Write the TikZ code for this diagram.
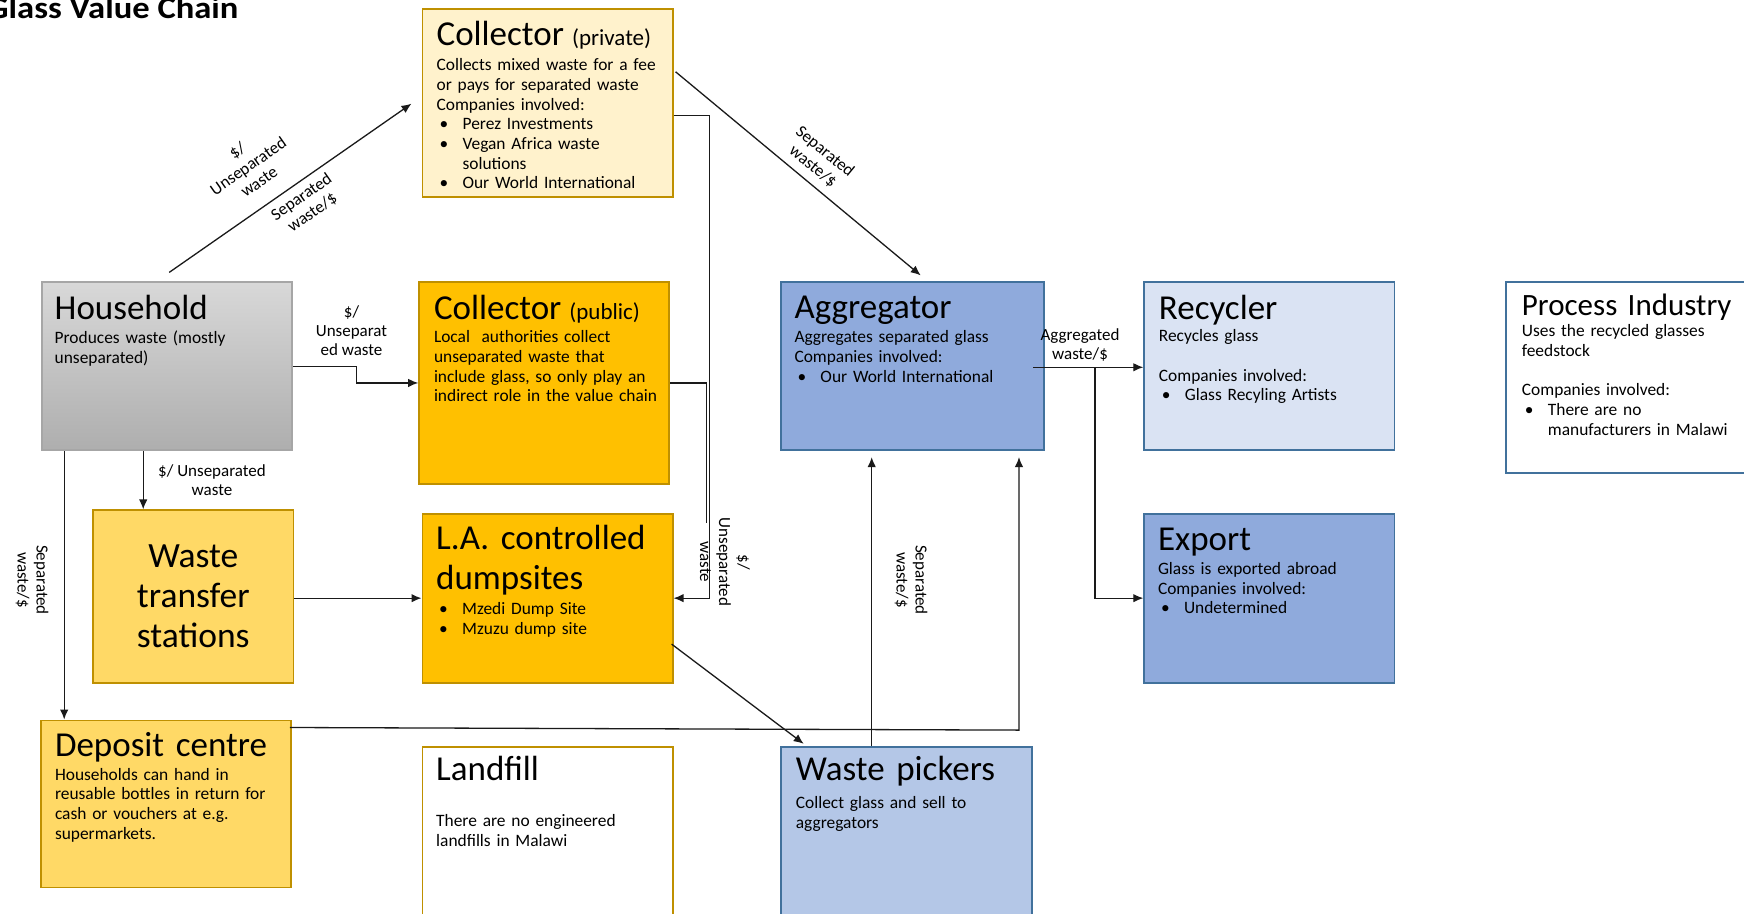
\documentclass[tikz,border=0pt]{standalone}
\usepackage{fontspec}
\setmainfont{Carlito}
\usetikzlibrary{arrows.meta,calc}
\definecolor{gold}{HTML}{BF9000}
\definecolor{lightyel}{HTML}{FFF2CC}
\definecolor{amber}{HTML}{FFC000}
\definecolor{yel}{HTML}{FFD966}
\definecolor{bluemid}{HTML}{8FAADC}
\definecolor{bluelight}{HTML}{DAE3F3}
\definecolor{bluepick}{HTML}{B4C7E7}
\definecolor{blueline}{HTML}{41719C}
\definecolor{grayline}{HTML}{A6A6A6}
\definecolor{hhtop}{HTML}{D8D8D8}
\definecolor{hhbot}{HTML}{AEAEAE}
\definecolor{inkline}{HTML}{1A1A1A}
\newcommand{\titlefont}{\fontsize{35}{40}\selectfont}
\newcommand{\subtitlefont}{\fontsize{23}{26}\selectfont}
\newcommand{\bodyfont}{\fontsize{17.4}{19.7}\selectfont}
\newcommand{\lblfont}{\fontsize{17}{19}\selectfont}
\newcommand{\bul}{\makebox[26pt][l]{\hspace{3pt}\textbullet}}
\begin{document}
\begin{tikzpicture}[x=1pt,y=-1pt,
  box/.style={anchor=north west, inner sep=0pt, line width=1.8pt},
  ttl/.style={anchor=base west, inner sep=0pt, font=\titlefont, text width=245pt, align=left},
  body/.style={anchor=base west, inner sep=0pt, font=\bodyfont, text width=245pt, align=left},
  lbl/.style={inner sep=0pt, font=\lblfont, align=center},
  conn/.style={draw=inkline, line width=1.3pt},
  arr/.style={conn, -{Latex[length=10pt,width=8.5pt]}}]
\clip (0,0) rectangle (1744,913);
\fill[white] (0,0) rectangle (1744,913);

% title
\node[anchor=base west, inner sep=0pt, xscale=1.115, font=\bfseries\fontsize{31}{36}\selectfont] (title) at (-13.5,18.6) {Glass Value Chain};

% boxes
\node[box, fill=lightyel, draw=gold, minimum width=250.3pt, minimum height=187.9pt] (cpriv) at (421.5,7.8) {};
\node[box, top color=hhtop, bottom color=hhbot, draw=grayline, minimum width=250.2pt, minimum height=167.9pt] (hh) at (41.2,281.4) {};
\node[box, fill=amber, draw=gold, minimum width=250.2pt, minimum height=201.3pt] (cpub) at (418.2,281.4) {};
\node[box, fill=bluemid, draw=blueline, minimum width=263.5pt, minimum height=167.9pt] (agg) at (779.7,281.4) {};
\node[box, fill=bluelight, draw=blueline, minimum width=250.3pt, minimum height=167.9pt] (rec) at (1143.3,281.4) {};
\node[box, fill=white, draw=blueline, minimum width=260pt, minimum height=190.5pt] (proc) at (1504.8,281.2) {};
\node[box, fill=yel, draw=gold, minimum width=200.2pt, minimum height=172.4pt] (wts) at (92.3,509.4) {};
\node[box, fill=amber, draw=gold, minimum width=250.3pt, minimum height=169.1pt] (lad) at (421.5,512.7) {};
\node[box, fill=bluemid, draw=blueline, minimum width=250.3pt, minimum height=169.1pt] (exp) at (1143.3,512.7) {};
\node[box, fill=yel, draw=gold, minimum width=250.3pt, minimum height=167pt] (dep) at (39.8,719.5) {};
\node[box, fill=white, draw=gold, minimum width=250.3pt, minimum height=190pt] (lf) at (421.5,745.7) {};
\node[box, fill=bluepick, draw=blueline, minimum width=251.3pt, minimum height=190pt] (wp) at (779.7,746.3) {};

% box texts
\node[ttl] (cprivt) at ($(cpriv.north west)+(14.9,37.9)$) {Collector\hspace{8pt}\subtitlefont(private)};
\node[body] (cprivb) at ($(cpriv.north west)+(14.9,62.9)$) {Collects mixed waste for a fee\\or pays for separated waste\\Companies involved:\\\bul Perez Investments\\\bul Vegan Africa waste\\\hspace*{26pt}solutions\\\bul Our World International};

\node[ttl] (hht) at ($(hh.north west)+(13.3,37.6)$) {Household};
\node[body] (hhb) at ($(hh.north west)+(13.3,62.2)$) {Produces waste (mostly\\unseparated)};

\node[ttl] (cpubt) at ($(cpub.north west)+(15.6,37.6)$) {Collector\hspace{8pt}\subtitlefont(public)};
\node[body] (cpubb) at ($(cpub.north west)+(15.6,61.2)$) {Local~ authorities collect\\unseparated waste that\\include glass, so only play an\\indirect role in the value chain};

\node[ttl] (aggt) at ($(agg.north west)+(14.6,37)$) {Aggregator};
\node[body] (aggb) at ($(agg.north west)+(14.6,61.3)$) {Aggregates separated glass\\Companies involved:\\\bul Our World International};

\node[ttl] (rect) at ($(rec.north west)+(15.4,37.6)$) {Recycler};
\node[body] (recb) at ($(rec.north west)+(15.4,60.3)$) {Recycles glass\\[19.7pt]Companies involved:\\\bul Glass Recyling Artists};

\node[ttl, font=\fontsize{31}{36}\selectfont] (proct) at ($(proc.north west)+(16.9,33.8)$) {Process Industry};
\node[body] (procb) at ($(proc.north west)+(16.9,55.5)$) {Uses the recycled glasses\\feedstock\\[19.7pt]Companies involved:\\\bul There are no\\\hspace*{26pt}manufacturers in Malawi};

\node[anchor=base, inner sep=0pt, font=\fontsize{35.5}{40.2}\selectfont, text width=200pt, align=center] (wtst) at ($(wts.north)+(0,57.9)$) {Waste\\transfer\\stations};

\node[ttl] (ladt) at ($(lad.north west)+(14.5,36.3)$) {L.A. controlled\\dumpsites};
\node[body] (ladb) at ($(lad.north west)+(14.5,101.6)$) {\bul Mzedi Dump Site\\\bul Mzuzu dump site};

\node[ttl] (expt) at ($(exp.north west)+(14.5,37.3)$) {Export};
\node[body] (expb) at ($(exp.north west)+(14.5,61.6)$) {Glass is exported abroad\\Companies involved:\\\bul Undetermined};

\node[ttl] (dept) at ($(dep.north west)+(15,36.5)$) {Deposit centre};
\node[body] (depb) at ($(dep.north west)+(15,60.5)$) {Households can hand in\\reusable bottles in return for\\cash or vouchers at e.g.\\supermarkets.};

\node[ttl] (lft) at ($(lf.north west)+(14.5,34.3)$) {Landfill};
\node[body] (lfb) at ($(lf.north west)+(14.5,81)$) {There are no engineered\\landfills in Malawi};

\node[ttl] (wpt) at ($(wp.north west)+(16,34)$) {Waste pickers};
\node[body] (wpb) at ($(wp.north west)+(16,62)$) {Collect glass and sell to\\aggregators};

% connectors
\draw[arr] ($(hh.north west)+(128,-9)$) -- ($(cpriv.west)+(-10,1)$);
\draw[arr] ($(hh.north east)+(0,85)$) -- ++(63.6,0) |- (cpub.west);
\draw[arr] ($(hh.south west)+(102,0)$) coordinate (c1) -- (c1 |- wts.north);
\draw[arr] ($(hh.south west)+(23,0)$) coordinate (d1) -- (d1 |- dep.north);
\draw[arr] ($(cpriv.north east)+(0,108)$) -- ++(35.6,0) |- (lad.east);
\draw[conn] (cpub.east) -- ++(36.5,0) -- ++(0,140);
\draw[arr] ($(cpriv.north east)+(2,64)$) -- ($(agg.north west)+(141,-6)$);
\draw[arr] ($(agg.east)+(-12,1)$) coordinate (g1) -- (g1 -| rec.west);
\draw[arr] ($(agg.east)+(50,1)$) |- (exp.west);
\draw[arr] (lad.west -| wts.east) -- (lad.west);
\draw[arr] ($(lad.south east)+(-2,-39.5)$) -- ($(wp.north west)+(24,-2.5)$);
\draw[arr] ($(wp.north west)+(92,0)$) -- ($(agg.south west)+(92,6)$);
\draw[arr] ($(dep.north east)+(-2,8)$) -- ($(agg.south west)+(239.3,279)$) -- ($(agg.south west)+(239.3,6)$);

% connector labels
\node[lbl, rotate=35] (l1) at (248,166) {\$/\\Unseparated\\waste};
\node[lbl, rotate=35] (l2) at (307,205) {Separated\\waste/\$};
\node[lbl, rotate=-39.4] (l3) at (819,159) {Separated\\waste/\$};
\node[lbl] (l4) at (351.5,331) {\$/\\Unseparat\\ed waste};
\node[lbl] (l5) at (212,480) {\$/ Unseparated\\waste};
\node[lbl, rotate=-90] (l6) at (32,580) {Separated\\waste/\$};
\node[lbl, rotate=-90] (l7) at (725,562) {\$/\\Unseparated\\waste};
\node[lbl, rotate=-90] (l8) at (911,580) {Separated\\waste/\$};
\node[lbl] (l9) at (1080,345) {Aggregated\\waste/\$};
\end{tikzpicture}
\end{document}
